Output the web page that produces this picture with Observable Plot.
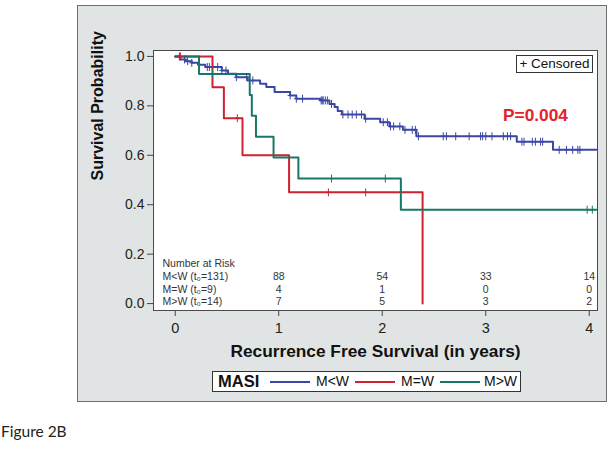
<!DOCTYPE html>
<html><head><meta charset="utf-8">
<script src="https://cdn.jsdelivr.net/npm/d3@7"></script>
<script src="https://cdn.jsdelivr.net/npm/@observablehq/plot@0.6"></script>
<style>
body{margin:0;background:#fff;font-family:"Liberation Sans",Arial,sans-serif;}
#wrap{position:relative;width:612px;height:474px;overflow:hidden;background:#fff}
#panel{position:absolute;left:77px;top:5px;width:528px;height:395px;background:#e1e4e4;border:1px solid #6e6e6e}
#chart{position:absolute;left:0;top:0}
#cens{position:absolute;left:516px;top:55px;width:75px;height:16px;border:1px solid #333;background:#fff;font-size:13.5px;line-height:16px;text-align:center;color:#111;white-space:nowrap}
#legend{position:absolute;left:212px;top:371px;width:307px;height:19px;border:1px solid #333;background:#fff;color:#111}
#legend .t{position:absolute;top:0;line-height:19px;font-size:14px;white-space:nowrap}
#legend .h{font-weight:bold;font-size:16.5px;left:5px}
#legend .l{position:absolute;top:9px;width:40px;height:0;border-top:2px solid}
#fig{position:absolute;left:1px;top:422px;font-family:Lato,"Open Sans",sans-serif;font-size:15.5px;color:#222;white-space:nowrap}
</style>
</head><body>
<div id="wrap">
  <div id="panel"></div>
  <div id="chart"></div>
  <div id="cens">+ Censored</div>
  <div id="legend"></div>
  <div id="fig">Figure 2B</div>
</div>
<script>
// ---- data ----
const groups = ["M<W", "M=W", "M>W"];
const colors = ["#3b47a6", "#cc2232", "#187866"];
const legendTitle = "MASI";

const blueT = [0,0.05,0.10,0.16,0.22,0.29,0.45,0.51,0.59,0.70,0.82,0.88,0.96,1.11,1.17,1.40,1.49,1.54,1.57,1.61,1.83,1.98,2.07,2.20,2.33,3.30,3.65,4.07];
const blueS = [1,0.988,0.981,0.974,0.966,0.957,0.943,0.930,0.916,0.903,0.889,0.876,0.856,0.842,0.829,0.822,0.808,0.795,0.779,0.765,0.748,0.734,0.717,0.703,0.677,0.655,0.622,0.622];
const redT = [0,0.36,0.47,0.65,1.10,2.39];
const redS = [1,0.875,0.75,0.60,0.45,0];
const greenT = [0,0.23,0.72,0.74,0.78,0.95,1.19,2.18,4.07];
const greenS = [1,0.929,0.844,0.760,0.675,0.591,0.506,0.380,0.380];

const blueCens = [0.04,0.09,0.12,0.16,0.31,0.33,0.41,0.45,0.49,0.59,0.69,0.75,1.11,1.17,1.23,1.41,1.42,1.43,1.45,1.47,1.51,1.62,1.67,1.71,1.75,1.80,1.84,2.01,2.05,2.08,2.11,2.17,2.22,2.29,2.32,2.35,2.59,2.62,2.71,2.84,2.95,2.97,3.00,3.06,3.17,3.21,3.24,3.35,3.37,3.45,3.48,3.53,3.55,3.71,3.78,3.84,3.89,3.91];
const redCens = [0.05,0.60,1.48,1.84];
const greenCens = [0.36,1.51,2.03,3.98,4.03];

const riskTitle = "Number at Risk";
const riskLabels = ["M<W (t\u2080=131)", "M=W (t\u2080=9)", "M>W (t\u2080=14)"];
const riskTimes = [1,2,3,4];
const riskBlue = [88,54,33,14];
const riskRed = [4,1,0,0];
const riskGreen = [7,5,3,2];

const xTicks = [0,1,2,3,4];
const yTicks = [0,0.2,0.4,0.6,0.8,1.0];
const xLabel = "Recurrence Free Survival (in years)";
const yLabel = "Survival Probability";
const pText = "P=0.004";

// ---- build ----
const curves = [[blueT, blueS], [redT, redS], [greenT, greenS]];
const cens = [blueCens, redCens, greenCens];
const risks = [riskBlue, riskRed, riskGreen];

function stepAt(T, S, t) { let v = S[0]; for (let i = 0; i < T.length; i++) if (T[i] <= t) v = S[i]; return v; }

const lineData = curves.flatMap(([T, S], g) => T.map((t, i) => ({t, s: S[i], g: groups[g]})));
const censData = cens.flatMap((C, g) => C.map(t => ({t, s: stepAt(curves[g][0], curves[g][1], t), g: groups[g]})));
const riskData = risks.flatMap((R, g) => R.map((n, i) => ({t: riskTimes[i], n, row: g})));

const tickSym = {draw(c) { c.moveTo(0, -4); c.lineTo(0, 4); c.moveTo(-2.5, 0); c.lineTo(2.5, 0); }};
const rowDy = [-31, -18, -6];

const plot = Plot.plot({
  width: 612, height: 474,
  marginLeft: 153, marginRight: 15, marginTop: 50, marginBottom: 164,
  style: {background: "transparent", fontFamily: "'Liberation Sans', Arial, sans-serif", overflow: "visible"},
  x: {domain: [-0.21, 4.08]},
  y: {domain: [-0.028, 1.024]},
  color: {domain: groups, range: colors},
  marks: [
    Plot.frame({fill: "white", stroke: "none"}),
    Plot.axisX({ticks: xTicks, tickFormat: d3.format("d"), tickSize: 6, tickPadding: 6, fontSize: 14.5, label: null, stroke: "#444", fill: "#222"}),
    Plot.axisY({ticks: yTicks, tickFormat: d3.format(".1f"), tickSize: 6, tickPadding: 3, fontSize: 14, label: null, stroke: "#444", fill: "#222"}),
    Plot.text([yLabel], {text: d => d, frameAnchor: "left", dx: -56, rotate: -90, fontSize: 16, fontWeight: "bold", fill: "#111"}),
    Plot.text([xLabel], {text: d => d, frameAnchor: "bottom", dy: 46, fontSize: 17.3, fontWeight: "bold", fill: "#111"}),
    ...groups.map((g, i) => Plot.line(lineData.filter(d => d.g === g), {x: "t", y: "s", curve: "step-after", stroke: colors[i], strokeWidth: 2})),
    Plot.dot(censData, {x: "t", y: "s", symbol: tickSym, stroke: "g", fill: "none", strokeWidth: 1, r: 4}),
    Plot.text([riskTitle], {text: d => d, frameAnchor: "bottom-left", dx: 9, dy: -44, textAnchor: "start", fontSize: 10.5, fill: "#333"}),
    ...riskLabels.map((lab, i) => Plot.text([lab], {text: d => d, frameAnchor: "bottom-left", dx: 9, dy: rowDy[i], textAnchor: "start", fontSize: 10.5, fill: "#333"})),
    ...[0,1,2].map(r => Plot.text(riskData.filter(d => d.row === r), {x: "t", text: "n", frameAnchor: "bottom", dy: rowDy[r], fontSize: 10.5, fill: "#333"})),
    Plot.text([pText], {text: d => d, frameAnchor: "top-right", dx: -62, dy: 58, textAnchor: "middle", fontSize: 17.3, fontWeight: "bold", fill: "#e5222b"}),
    Plot.frame({stroke: "#4a4a4a", strokeWidth: 1})
  ]
});
document.getElementById("chart").append(plot);

// legend
const leg = document.getElementById("legend");
const h = document.createElement("div"); h.className = "t h"; h.textContent = legendTitle; leg.append(h);
const lineLeft = [57, 142, 227], textLeft = [103, 188, 271];
groups.forEach((g, i) => {
  const l = document.createElement("div"); l.className = "l"; l.style.left = lineLeft[i] + "px"; l.style.borderTopColor = colors[i]; leg.append(l);
  const t = document.createElement("div"); t.className = "t"; t.style.left = textLeft[i] + "px"; t.textContent = g; leg.append(t);
});
</script>
</body></html>
